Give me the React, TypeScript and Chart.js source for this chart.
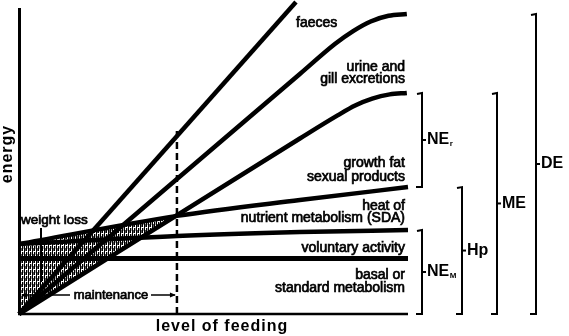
import React, { useEffect, useRef } from 'react';
import { Chart, registerables } from 'chart.js';

Chart.register(...registerables);

// ---- data (x: level of feeding, y: energy; arbitrary units) ----
const FEED_MIN = 0;
const FEED_MAX = 100;
const ENERGY_MIN = 0;
const ENERGY_MAX = 104;

const grossEnergyLine = [[0, 0], [71.2, 104]];
const digestibleLine = [[0, 0], [72.2, 80], [81.2, 90], [85.9, 94.3], [90.4, 97.5], [95, 99.4], [99.7, 100]];
const metabolizableLine = [[0, 0], [72.2, 58.5], [81.9, 66.2], [86.4, 69.5], [90.8, 71.8], [95.3, 73.2], [99.7, 73.7]];
const heatProductionLine = [[0, 23.3], [40.6, 32.7], [72.2, 38], [100, 42.3]];
const maintenanceNetLine = [[0, 23.3], [40.6, 26], [72.2, 27.3], [100, 28]];
const basalLine = [[0, 18.5], [100, 18.5]];
const maintenanceFeed = 40.6;
const maintenanceMarkTop = 62.3;
const weightLossArea = [[0, 23.3], [40.6, 32.8], [0, 0]];

const bracketNames = ['NE', 'NE', 'Hp', 'ME', 'DE'];
const bracketSubs = ['r', 'M', '', '', ''];
const bracketTop = [73.7, 28, 42.3, 73.7, 100];
const bracketBottom = [42.3, 0, 0, 0, 0];

const regionLabels = [
  ['urine and', 'gill excretions'],
  ['growth fat', 'sexual products'],
  ['heat of', 'nutrient metabolism (SDA)'],
  ['voluntary activity'],
  ['basal or', 'standard metabolism'],
];
const faecesLabel = 'faeces';
const weightLossLabel = 'weight loss';
const maintenanceLabel = 'maintenance';
const xTitle = 'level of feeding';
const yTitle = 'energy';

const toPts = (a: number[][]) => a.map(([x, y]) => ({ x, y }));
const FONT = '"Liberation Sans", Arial, Helvetica, sans-serif';

export default function App() {
  const ref = useRef<HTMLCanvasElement>(null);

  useEffect(() => {
    const canvas = ref.current!;
    const pc = document.createElement('canvas');
    pc.width = 4;
    pc.height = 6;
    const p = pc.getContext('2d')!;
    p.fillStyle = '#fff';
    p.fillRect(0, 0, 4, 6);
    p.fillStyle = '#000';
    p.fillRect(0, 0, 1, 6);
    p.fillRect(2, 0, 1, 5);
    p.fillStyle = '#555';
    p.fillRect(1, 2, 1, 3);
    p.fillStyle = '#aaa';
    p.fillRect(3, 0, 1, 3);
    const pattern = canvas.getContext('2d')!.createPattern(pc, 'repeat');

    const overlay = {
      id: 'overlay',
      beforeDatasetsDraw(chart: any) {
        const { ctx, scales } = chart;
        const xs = scales.x, ys = scales.y;
        ctx.save();
        ctx.beginPath();
        weightLossArea.forEach(([a, b], i) => {
          const px = xs.getPixelForValue(a), py = ys.getPixelForValue(b);
          if (i) ctx.lineTo(px, py); else ctx.moveTo(px, py);
        });
        ctx.closePath();
        ctx.fillStyle = pattern;
        ctx.fill();
        ctx.restore();
      },
      afterDatasetsDraw(chart: any) {
        const { ctx, scales, chartArea } = chart;
        const xs = scales.x, ys = scales.y;
        const x0 = xs.getPixelForValue(FEED_MIN);
        const x1 = xs.getPixelForValue(FEED_MAX);
        const y0 = ys.getPixelForValue(ENERGY_MIN);
        ctx.save();
        ctx.strokeStyle = '#000';
        ctx.fillStyle = '#000';
        // axes
        ctx.lineWidth = 3;
        ctx.beginPath();
        ctx.moveTo(x0 + 0.5, 8);
        ctx.lineTo(x0 + 0.5, y0 + 1);
        ctx.stroke();
        ctx.lineWidth = 2.5;
        ctx.beginPath();
        ctx.moveTo(x0 - 1, y0);
        ctx.lineTo(x1, y0);
        ctx.stroke();

        // axis titles
        ctx.font = `bold 16px ${FONT}`;
        (ctx as any).letterSpacing = '1px';
        ctx.textAlign = 'center';
        ctx.textBaseline = 'alphabetic';
        ctx.fillText(xTitle, 222, 331);
        ctx.save();
        ctx.translate(12, 154);
        ctx.rotate(-Math.PI / 2);
        ctx.fillText(yTitle, 0, 0);
        ctx.restore();
        (ctx as any).letterSpacing = '0px';

        // region labels
        const drawText = (t: string, x: number, y: number, align: CanvasTextAlign, size = 14) => {
          ctx.font = `${size}px ${FONT}`;
          ctx.textAlign = align;
          ctx.textBaseline = 'middle';
          ctx.lineWidth = 0.7;
          ctx.fillText(t, x, y);
          ctx.strokeText(t, x, y);
        };
        const rx = chartArea.right - 3;
        const labelYs = [[67, 79], [163, 177], [206, 218], [248], [275, 288]];
        regionLabels.forEach((lines, i) => {
          lines.forEach((t, j) => drawText(t, rx, labelYs[i][j], 'right'));
        });
        drawText(faecesLabel, 296, 23, 'left');
        drawText(weightLossLabel, 21, 220, 'left', 13.5);

        // weight loss pointer
        ctx.lineWidth = 2;
        ctx.beginPath();
        ctx.moveTo(41, 228);
        ctx.lineTo(41, 282);
        ctx.stroke();

        // maintenance arrow
        const my = 295;
        const mx = xs.getPixelForValue(maintenanceFeed);
        drawText(maintenanceLabel, 111, my, 'center', 13);
        ctx.lineWidth = 1.5;
        ctx.beginPath();
        ctx.moveTo(x0 + 3, my);
        ctx.lineTo(70, my);
        ctx.moveTo(151, my);
        ctx.lineTo(mx - 2, my);
        ctx.stroke();
        ctx.beginPath();
        ctx.moveTo(mx - 1, my);
        ctx.lineTo(mx - 7, my - 2.5);
        ctx.lineTo(mx - 7, my + 2.5);
        ctx.closePath();
        ctx.moveTo(x0 + 2, my);
        ctx.lineTo(x0 + 8, my - 2.5);
        ctx.lineTo(x0 + 8, my + 2.5);
        ctx.closePath();
        ctx.fill();

        // brackets
        const bxs = [422, 422, 462, 497, 536];
        bracketNames.forEach((name, i) => {
          const bx = bxs[i];
          const top = ys.getPixelForValue(bracketTop[i]);
          const bot = ys.getPixelForValue(bracketBottom[i]);
          ctx.lineWidth = 2;
          ctx.beginPath();
          ctx.moveTo(bx - 5, top + 1);
          ctx.lineTo(bx, top);
          ctx.lineTo(bx, bot);
          ctx.lineTo(bx - 6, bot);
          ctx.stroke();
          const mid = (top + bot) / 2;
          ctx.beginPath();
          ctx.moveTo(bx, mid);
          ctx.lineTo(bx + 4, mid);
          ctx.stroke();
          ctx.font = `bold 16px ${FONT}`;
          ctx.textAlign = 'left';
          ctx.textBaseline = 'middle';
          ctx.fillText(name, bx + 5, mid);
          if (bracketSubs[i]) {
            const w = ctx.measureText(name).width;
            ctx.font = `bold 8px ${FONT}`;
            ctx.fillText(bracketSubs[i], bx + 5 + w + 0.5, mid + 4);
          }
        });
        ctx.restore();
      },
    };

    const ds = (data: number[][], extra: any = {}) => ({
      data: toPts(data),
      borderColor: '#000',
      borderWidth: 4.5,
      pointRadius: 0,
      fill: false,
      tension: 0,
      clip: false,
      ...extra,
    });

    const chart = new Chart(canvas, {
      type: 'line',
      data: {
        datasets: [
          ds(grossEnergyLine),
          ds(digestibleLine, { cubicInterpolationMode: 'monotone' }),
          ds(metabolizableLine, { cubicInterpolationMode: 'monotone' }),
          ds(heatProductionLine, { cubicInterpolationMode: 'monotone' }),
          ds(maintenanceNetLine, { cubicInterpolationMode: 'monotone' }),
          ds(basalLine, { borderWidth: 5 }),
          ds([[maintenanceFeed, ENERGY_MIN], [maintenanceFeed, maintenanceMarkTop]], {
            borderWidth: 2.5,
            borderDash: [7, 4],
          }),
        ],
      },
      options: {
        responsive: false,
        animation: false,
        events: [],
        layout: { padding: { left: 19, right: 161, top: 2, bottom: 22 } },
        scales: {
          x: { type: 'linear', min: FEED_MIN, max: FEED_MAX, display: false },
          y: { type: 'linear', min: ENERGY_MIN, max: ENERGY_MAX, display: false },
        },
        plugins: { legend: { display: false }, tooltip: { enabled: false } },
      },
      plugins: [overlay],
    } as any);
    return () => chart.destroy();
  }, []);

  return (
    <div style={{ position: 'fixed', left: 0, top: 0, width: 569, height: 336, background: '#fff' }}>
      <canvas ref={ref} width={569} height={336} style={{ width: 569, height: 336, display: 'block' }} />
    </div>
  );
}
